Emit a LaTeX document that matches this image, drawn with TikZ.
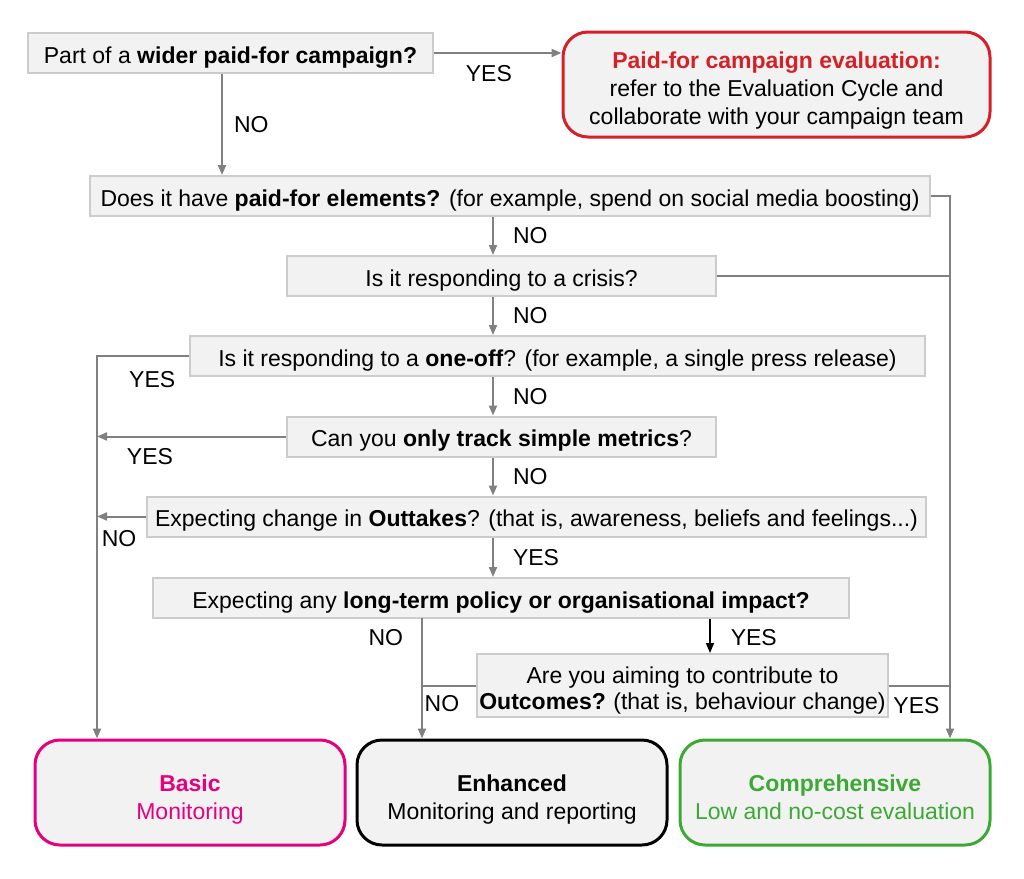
\documentclass[tikz,border=0pt]{standalone}
\usepackage{fontspec}
\setmainfont{Liberation Sans}
\usetikzlibrary{positioning,arrows.meta,calc}
\definecolor{boxfill}{HTML}{F2F2F2}
\definecolor{boxline}{HTML}{CCCCCC}
\definecolor{linkgray}{HTML}{808080}
\definecolor{paidred}{HTML}{D42127}
\definecolor{basicpink}{HTML}{E5007D}
\definecolor{compgreen}{HTML}{3DA935}

\begin{document}
\begin{tikzpicture}[x=1pt,y=-1pt,>={Triangle[length=10pt,width=8pt]},
   every node/.style={font=\fontsize{23}{28}\selectfont},
   question/.style={draw=boxline,fill=boxfill,line width=2pt,minimum height=40pt,inner sep=0pt,
     text height=20pt,text depth=0pt},
   outcome/.style={draw,fill=boxfill,line width=3pt,rounded corners=25pt,
     minimum width=310pt,minimum height=105pt,align=center,text height=53pt,text depth=0pt},
   link/.style={draw=linkgray,line width=2pt},
   answer/.style={inner sep=0pt}]
  \useasboundingbox (0,0) rectangle (1024,878);

  % questions
  \node[question,minimum width=405pt] (q1) at (230.5,53) {Part of a \textbf{wider paid-for campaign?}};
  \node[outcome,draw=paidred,minimum width=427pt,text height=79pt] (paid) at (776.5,84.5)
    {\textcolor{paidred}{\textbf{Paid-for campaign evaluation:}}\\refer to the Evaluation Cycle and\\collaborate with your campaign team};
  \node[question,minimum width=840pt] (q2) at (510,196) {Does it have \textbf{paid-for elements?} (for example, spend on social media boosting)};
  \node[question,minimum width=429pt] (q3) at (501.5,276) {Is it responding to a crisis?};
  \node[question,minimum width=735pt] (q4) at (557.5,356) {Is it responding to a \textbf{one-off}? (for example, a single press release)};
  \node[question,minimum width=429pt] (q5) at (501.5,436.5) {Can you \textbf{only track simple metrics}?};
  \node[question,minimum width=779pt] (q6) at (536.5,516.5) {Expecting change in \textbf{Outtakes}? (that is, awareness, beliefs and feelings...)};
  \node[question,minimum width=696pt] (q7) at (501,598) {Expecting any \textbf{long-term policy or organisational impact?}};
  \node[question,minimum width=411pt,minimum height=63pt,align=center,
    font=\fontsize{23}{26}\selectfont,text height=47pt,text depth=0pt] (q8) at (682.5,685.5)
    {Are you aiming to contribute to\\\textbf{Outcomes?}\hspace{-1pt} (that is, behaviour change)};

  % outcomes
  \node[outcome,draw=basicpink,text=basicpink] (basic) at (190,792.5) {\textbf{Basic}\\Monitoring};
  \node[outcome,draw=black] (enh) at (512,792.5) {\textbf{Enhanced}\\Monitoring and reporting};
  \node[outcome,draw=compgreen,text=compgreen] (comp) at (835,792.5) {\textbf{Comprehensive}\\Low and no-cost evaluation};

  % trunks
  \coordinate (spine) at (493,0);
  \coordinate (rtrunk) at (950,196);
  \coordinate (ltrunk) at (97,356);
  \coordinate (mid) at (422,618);
  \coordinate (n1) at ($(q1.south)+(-8.5,0)$);

  \draw[link,->] (q1.east) -- node[answer,below=11pt,pos=0.43]{YES} (paid.west |- q1.east);
  \draw[link,->] (n1) -- node[answer,right=11pt]{NO} (n1 |- q2.north);
  \draw[link,->] (q2.east) -- (rtrunk) -- (rtrunk |- comp.north);
  \draw[link] (q3.east) -- (q3.east -| rtrunk);
  \draw[link] (q8.east) -- node[answer,below=11pt,pos=0.45]{YES} (q8.east -| rtrunk);
  \draw[link,->] (q2.south -| spine) -- node[answer,right=19pt]{NO} (q3.north -| spine);
  \draw[link,->] (q3.south -| spine) -- node[answer,right=19pt]{NO} (q4.north -| spine);
  \draw[link,->] (q4.south -| spine) -- node[answer,right=19pt]{NO} (q5.north -| spine);
  \draw[link,->] (q5.south -| spine) -- node[answer,right=19pt]{NO} (q6.north -| spine);
  \draw[link,->] (q6.south -| spine) -- node[answer,right=19pt]{YES} (q7.north -| spine);
  \draw[link,->] (q4.west) -- node[answer,below=14pt,pos=0.4]{YES} (ltrunk) -- (ltrunk |- basic.north);
  \draw[link,->] (q5.west) -- node[answer,below=11pt,pos=0.72]{YES} (q5.west -| ltrunk);
  \draw[link,->] (q6.west) -- node[answer,below=13pt,pos=0.55]{NO} (q6.west -| ltrunk);
  \draw[link,->] (mid) -- node[answer,left=18pt,pos=0.16]{NO} (mid |- enh.north);
  \draw[link] (q8.west) -- node[answer,below=9pt,pos=0.63]{NO} (q8.west -| mid);
  \draw[->,line width=1.5pt] (q7.south -| 710,0) -- node[answer,right=20pt,yshift=-2pt]{YES} (q8.north -| 710,0);
\end{tikzpicture}
\end{document}
